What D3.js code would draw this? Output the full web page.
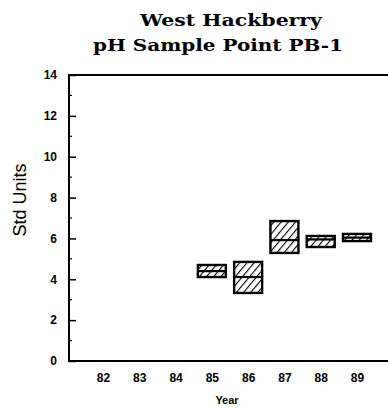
<!DOCTYPE html>
<html><head><meta charset="utf-8">
<script src="https://cdn.jsdelivr.net/npm/d3@7"></script>
<style>body{margin:0;background:#fff}svg{display:block}</style>
</head><body>
<script>
const years = ["82","83","84","85","86","87","88","89"];
const boxYears = ["85","86","87","88","89"];
const boxMin = [4.11, 3.33, 5.29, 5.58, 5.87];
const boxMid = [4.40, 4.11, 5.92, 5.95, 6.04];
const boxMax = [4.70, 4.85, 6.85, 6.12, 6.22];
const yTicks = [0,2,4,6,8,10,12,14];

const W = 388, H = 409;
const svg = d3.select("body").append("svg").attr("width", W).attr("height", H);

const defs = svg.append("defs");
const pat = defs.append("pattern").attr("id","hatch").attr("patternUnits","userSpaceOnUse")
  .attr("width",5.5).attr("height",5.5).attr("patternTransform","rotate(40)");
pat.append("rect").attr("width",5.5).attr("height",5.5).attr("fill","#fff");
pat.append("line").attr("x1",0).attr("y1",0).attr("x2",0).attr("y2",5.5).attr("stroke","#000").attr("stroke-width",2.2);

const x = d3.scalePoint().domain(years).range([103, 357]);
const y = d3.scaleLinear().domain([0,14]).range([361, 75]);
const left = 69, right = 388;

// frame
svg.append("line").attr("x1",left).attr("x2",right).attr("y1",y(14)).attr("y2",y(14)).attr("stroke","#000").attr("stroke-width",2);
svg.append("line").attr("x1",left).attr("x2",right).attr("y1",y(0)).attr("y2",y(0)).attr("stroke","#000").attr("stroke-width",2);
svg.append("line").attr("x1",left).attr("x2",left).attr("y1",y(0)+1).attr("y2",y(14)-1).attr("stroke","#000").attr("stroke-width",2);

// y ticks
const yAxis = svg.append("g").attr("transform",`translate(${left},0)`)
  .call(d3.axisLeft(y).tickValues(yTicks).tickSize(-7).tickPadding(12).tickFormat(d3.format("d")));
yAxis.select(".domain").remove();
yAxis.selectAll(".tick line").attr("stroke","#000").attr("stroke-width",1.5);
yAxis.selectAll(".tick text").attr("font-family","'Liberation Sans', Arial, sans-serif").attr("font-weight","bold").attr("font-size",12).attr("fill","#000");
// minor ticks
svg.append("g").selectAll("line").data(d3.range(1,14,2)).join("line")
  .attr("x1",left).attr("x2",left+3).attr("y1",d=>y(d)).attr("y2",d=>y(d)).attr("stroke","#000").attr("stroke-width",1.2);

// x axis labels
const xAxis = svg.append("g").attr("transform",`translate(0,${y(0)})`)
  .call(d3.axisBottom(x).tickSize(0).tickPadding(12));
xAxis.select(".domain").remove();
xAxis.selectAll(".tick text").attr("font-family","'Liberation Sans', Arial, sans-serif").attr("font-weight","bold").attr("font-size",12).attr("fill","#000");

// boxes
const bw = 28;
const data = boxYears.map((yr,i)=>({yr, lo:boxMin[i], mid:boxMid[i], hi:boxMax[i]}));
const g = svg.append("g");
g.selectAll("rect").data(data).join("rect")
  .attr("x",d=>x(d.yr)-bw/2).attr("width",bw)
  .attr("y",d=>y(d.hi)).attr("height",d=>y(d.lo)-y(d.hi))
  .attr("fill","url(#hatch)").attr("stroke","#000").attr("stroke-width",2.4);
g.selectAll("line.mid").data(data).join("line").attr("class","mid")
  .attr("x1",d=>x(d.yr)-bw/2).attr("x2",d=>x(d.yr)+bw/2)
  .attr("y1",d=>y(d.mid)).attr("y2",d=>y(d.mid)).attr("stroke","#000").attr("stroke-width",2.2);

// titles
svg.append("text").attr("x",231).attr("y",26).attr("text-anchor","middle")
  .attr("font-family","'DejaVu Serif', serif").attr("font-weight","bold").attr("font-size",17)
  .attr("textLength",182).attr("lengthAdjust","spacingAndGlyphs").text("West Hackberry");
svg.append("text").attr("x",218).attr("y",51).attr("text-anchor","middle")
  .attr("font-family","'DejaVu Serif', serif").attr("font-weight","bold").attr("font-size",17)
  .attr("textLength",250).attr("lengthAdjust","spacingAndGlyphs").text("pH Sample Point PB-1");

svg.append("text").attr("transform","translate(26,200) rotate(-90)").attr("text-anchor","middle")
  .attr("font-family","'Liberation Sans', Arial, sans-serif").attr("font-size",18).text("Std Units");
svg.append("text").attr("x",227).attr("y",404).attr("text-anchor","middle")
  .attr("font-family","'Liberation Sans', Arial, sans-serif").attr("font-weight","bold").attr("font-size",11).text("Year");
</script>
</body></html>
